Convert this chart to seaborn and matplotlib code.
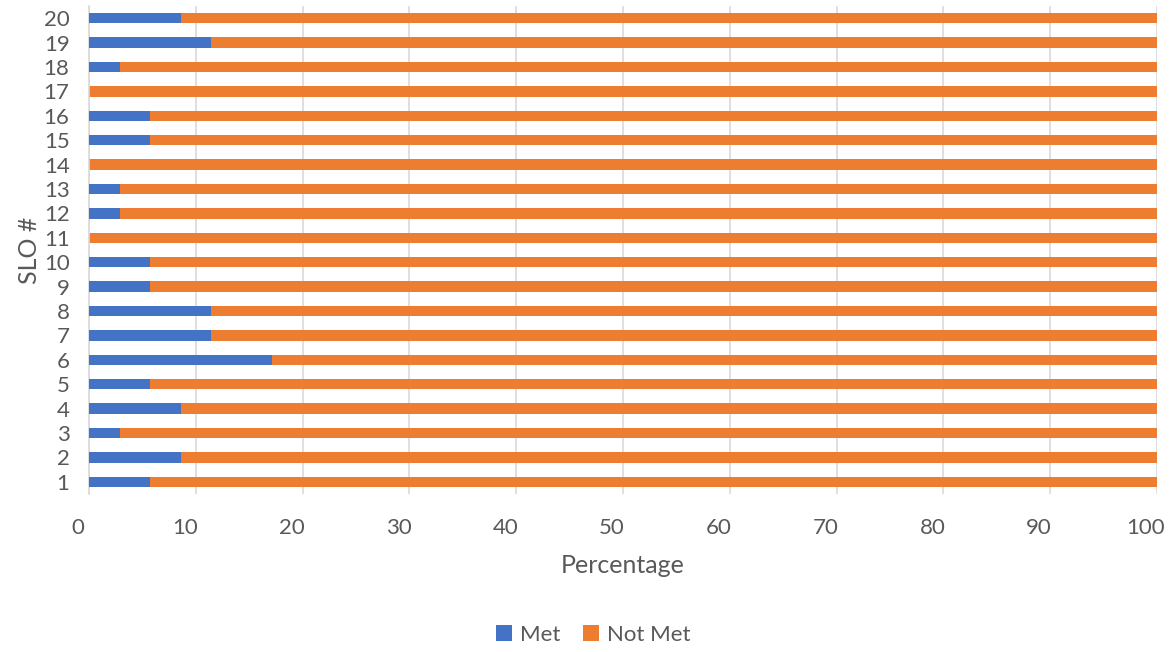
import matplotlib
matplotlib.use("Agg")
import matplotlib.pyplot as plt
import matplotlib.transforms as mtransforms
from matplotlib.patches import Patch
import seaborn as sns
import pandas as pd

slo = [str(i) for i in range(1, 21)]
met = [5.71, 8.57, 2.86, 8.57, 5.71, 17.14, 11.43, 11.43, 5.71, 5.71,
       0.0, 2.86, 2.86, 0.0, 5.71, 5.71, 0.0, 2.86, 11.43, 8.57]
not_met = [94.29, 91.43, 97.14, 91.43, 94.29, 82.86, 88.57, 88.57, 94.29, 94.29,
           100.0, 97.14, 97.14, 100.0, 94.29, 94.29, 100.0, 97.14, 88.57, 91.43]
x_ticks = [0, 10, 20, 30, 40, 50, 60, 70, 80, 90, 100]

BLUE = "#4472C4"
ORANGE = "#ED7D31"
TXT = "#595959"
GRID = "#D9D9D9"

sns.set_theme(style="white")
plt.rcParams['font.family'] = ['Lato', 'DejaVu Sans']

df = pd.DataFrame({"SLO": slo, "Met": met, "NotMet": not_met})
df["Total"] = df["Met"] + df["NotMet"]
order = slo[::-1]

fig = plt.figure(figsize=(11.73, 6.52), dpi=100)
ax = fig.add_axes([89/1173, 1 - 494/652, (1157-89)/1173, (494-6)/652])

sns.barplot(data=df, y="SLO", x="Total", order=order, orient="h",
            color=ORANGE, width=0.42, saturation=1, ax=ax, zorder=2)
sns.barplot(data=df, y="SLO", x="Met", order=order, orient="h",
            color=BLUE, width=0.42, saturation=1, ax=ax, zorder=3)
for p in ax.patches:
    p.set_edgecolor("none")
    p.set_linewidth(0)

ax.set_xlim(0, 100)
ax.set_ylim(len(slo) - 0.5, -0.5)
ax.set_xticks(x_ticks)
ax.set_xticklabels([str(t) for t in x_ticks])
ax.xaxis.grid(True, color=GRID, linewidth=1.2, zorder=0)
ax.set_axisbelow(True)

for s in ["top", "right", "bottom"]:
    ax.spines[s].set_visible(False)
ax.spines["left"].set_color(GRID)
ax.spines["left"].set_linewidth(1.2)

ax.set_yticks([i for i in range(len(slo))])
ax.set_yticklabels(order)
ax.tick_params(axis="y", which="major", length=0, pad=14, labelsize=16, labelcolor=TXT)
ax.set_yticks([i - 0.5 for i in range(len(slo) + 1)], minor=True)
ax.tick_params(axis="y", which="minor", length=8, width=1.2, color=GRID, direction="out")
ax.tick_params(axis="x", length=0, pad=17, labelsize=16, labelcolor=TXT)
offset = mtransforms.ScaledTranslation(-11/100, 0, fig.dpi_scale_trans)
for lab in ax.get_xticklabels():
    lab.set_transform(lab.get_transform() + offset)

ax.set_xlabel("Percentage", fontsize=18, color=TXT, labelpad=12)
ax.set_ylabel("SLO #", fontsize=18, color=TXT, labelpad=2)

handles = [Patch(facecolor=BLUE, edgecolor="none", label="Met"),
           Patch(facecolor=ORANGE, edgecolor="none", label="Not Met")]
fig.legend(handles=handles, loc="center", bbox_to_anchor=(593/1173, 1 - 635/652),
           ncol=2, frameon=False, fontsize=16, labelcolor=TXT,
           handlelength=0.75, handleheight=0.75, handletextpad=0.35, columnspacing=1.0)

fig.savefig("out.png", dpi=100)
